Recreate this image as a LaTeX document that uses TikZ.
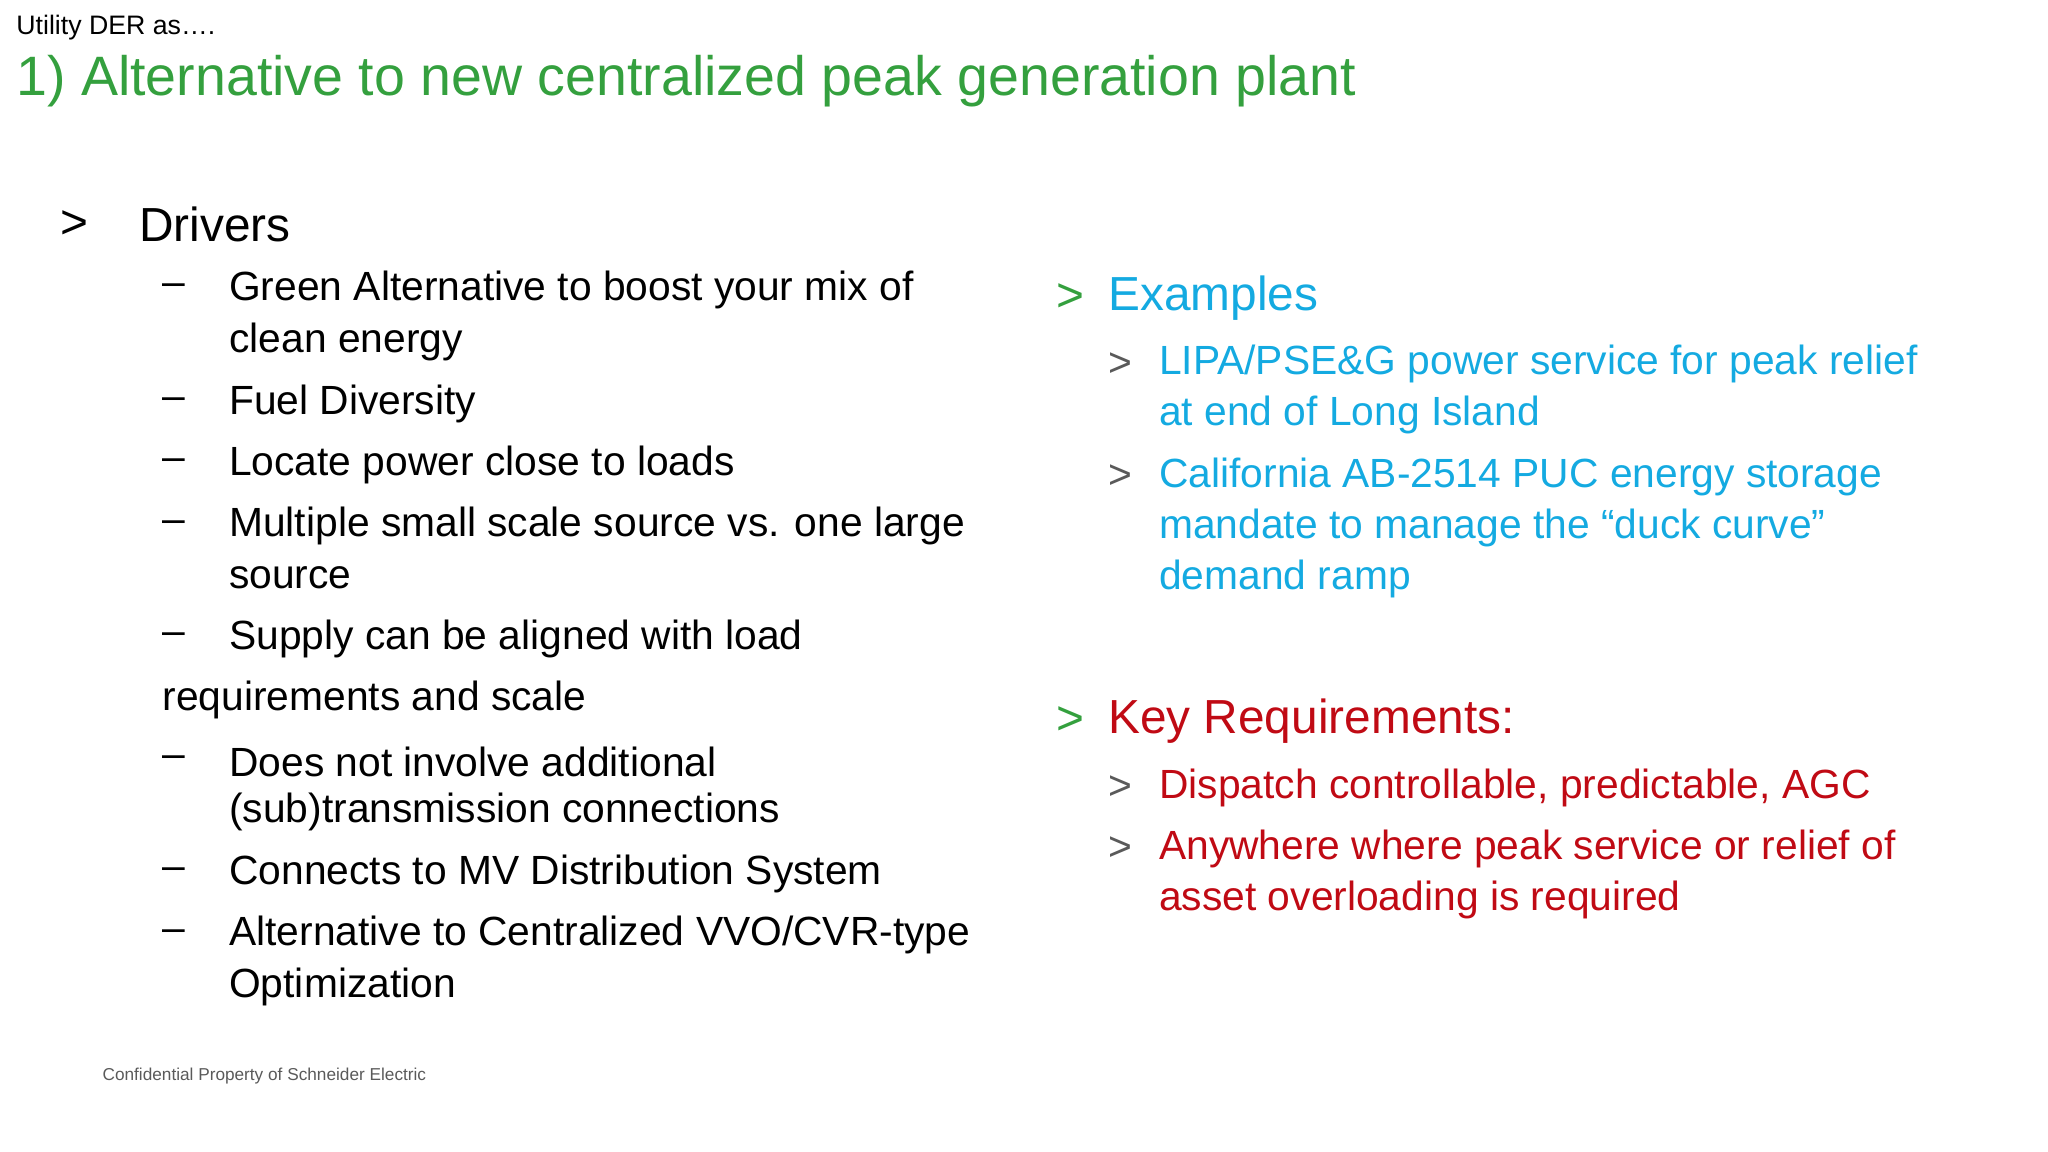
\documentclass[tikz,border=0pt]{standalone}
\usepackage{fontspec}
\setmainfont{Liberation Sans}
\definecolor{sgreen}{RGB}{52,160,62}
\definecolor{sblue}{RGB}{20,170,225}
\definecolor{sred}{RGB}{192,10,20}
\definecolor{sgray}{RGB}{90,90,90}
\begin{document}
\begin{tikzpicture}[x=0.013061cm,y=-0.013061cm,
 t/.style={anchor=west,inner sep=0pt,font=\fontsize{11.6}{14}\selectfont},
 big/.style={anchor=west,inner sep=0pt,font=\fontsize{13.6}{16}\selectfont}]
\useasboundingbox (0,0) rectangle (1568,882);
\node[anchor=west,inner sep=0pt,font=\fontsize{7.6}{9}\selectfont] (hdr) at (12,21) {Utility DER as….};
\node[anchor=west,inner sep=0pt,font=\fontsize{15.8}{18}\selectfont,text=sgreen] (title) at (12,62) {1) Alternative to new centralized peak generation plant};
\node[big] (dm) at (46,172) {>};
\node[big] (dr) at (106,172) {Drivers};
\foreach \y/\txt/\d in {
 222/{Green Alternative to boost your mix of}/1,
 262/{clean energy}/0,
 309/{Fuel Diversity}/1,
 356/{Locate power close to loads}/1,
 403/{Multiple small scale source vs. one large}/1,
 442/{source}/0,
 489/{Supply can be aligned with load}/1,
 583/{Does not involve additional}/1,
 622/{(sub)transmission connections}/0,
 669/{Connects to MV Distribution System}/1,
 716/{Alternative to Centralized VVO/CVR-type}/1,
 756/{Optimization}/0}{
 \node[t] (l\y) at (175,\y) {\txt};
 \ifnum\d=1 \node[t] (d\y) at (124,\y) {–};\fi
}
\node[t] (req) at (124,536) {requirements and scale};
\node[big,text=sgreen] (em) at (808,228) {>};
\node[big,text=sblue] (ex) at (848,228) {Examples};
\foreach \y/\txt/\d in {
 279/{LIPA/PSE\&G power service for peak relief}/1,
 318/{at end of Long Island}/0,
 365/{California AB-2514 PUC energy storage}/1,
 404/{mandate to manage the “duck curve”}/0,
 443/{demand ramp}/0}{
 \node[t,text=sblue] (e\y) at (887,\y) {\txt};
 \ifnum\d=1 \node[t,text=sgray] (ea\y) at (848,\y) {>};\fi
}
\node[big,text=sgreen] (km) at (808,552) {>};
\node[big,text=sred] (kr) at (848,552) {Key Requirements:};
\foreach \y/\txt/\d in {
 603/{Dispatch controllable, predictable, AGC}/1,
 650/{Anywhere where peak service or relief of}/1,
 689/{asset overloading is required}/0}{
 \node[t,text=sred] (k\y) at (887,\y) {\txt};
 \ifnum\d=1 \node[t,text=sgray] (ka\y) at (848,\y) {>};\fi
}
\node[anchor=west,inner sep=0pt,font=\fontsize{4.9}{6}\selectfont,text=sgray] (foot) at (78,824) {Confidential Property of Schneider Electric};
\end{tikzpicture}
\end{document}
